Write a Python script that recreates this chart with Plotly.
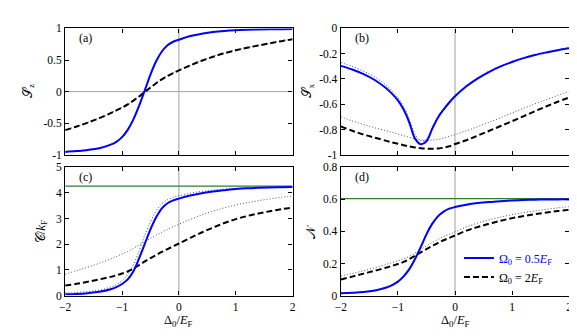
import plotly.graph_objects as go

# ---------------- data ----------------
delta = [-2.0, -1.8, -1.6, -1.4, -1.2, -1.1, -1.0, -0.9, -0.8, -0.7, -0.6, -0.5, -0.4, -0.3,
         -0.2, -0.1, 0.0, 0.2, 0.4, 0.6, 0.8, 1.0, 1.2, 1.4, 1.6, 1.8, 2.0]

# (a) S_z
sz_blue = [-0.954, -0.941, -0.924, -0.896, -0.840, -0.795, -0.720, -0.605, -0.440, -0.225, 0.020,
           0.270, 0.480, 0.635, 0.735, 0.790, 0.822, 0.880, 0.915, 0.943, 0.961, 0.972, 0.979,
           0.984, 0.987, 0.989, 0.990]
sz_blue_dot = [-0.950, -0.937, -0.919, -0.890, -0.833, -0.787, -0.711, -0.594, -0.427, -0.210, 0.034,
               0.281, 0.487, 0.639, 0.737, 0.792, 0.824, 0.881, 0.916, 0.944, 0.962, 0.973, 0.980,
               0.985, 0.988, 0.990, 0.991]
sz_black = [-0.610, -0.553, -0.490, -0.420, -0.340, -0.298, -0.253, -0.203, -0.143, -0.076, -0.005,
            0.065, 0.133, 0.195, 0.248, 0.293, 0.335, 0.415, 0.488, 0.552, 0.607, 0.654, 0.695,
            0.731, 0.765, 0.798, 0.828]
sz_black_dot = [-0.606, -0.549, -0.486, -0.416, -0.336, -0.294, -0.249, -0.199, -0.139, -0.072, -0.001,
                0.069, 0.137, 0.199, 0.252, 0.297, 0.339, 0.419, 0.492, 0.556, 0.611, 0.658, 0.699,
                0.735, 0.769, 0.802, 0.832]

# (b) S_x
sx_blue = [-0.296, -0.325, -0.362, -0.410, -0.475, -0.518, -0.570, -0.642, -0.745, -0.872, -0.916,
           -0.893, -0.795, -0.706, -0.642, -0.586, -0.537, -0.458, -0.395, -0.343, -0.300, -0.265,
           -0.235, -0.210, -0.190, -0.172, -0.157]
sx_blue_dot = [-0.270, -0.300, -0.338, -0.386, -0.452, -0.495, -0.548, -0.619, -0.718, -0.838, -0.890,
               -0.876, -0.785, -0.697, -0.634, -0.579, -0.530, -0.452, -0.390, -0.338, -0.296, -0.261,
               -0.231, -0.206, -0.186, -0.168, -0.152]
sx_black = [-0.775, -0.810, -0.840, -0.865, -0.890, -0.902, -0.913, -0.924, -0.934, -0.942, -0.948,
            -0.952, -0.953, -0.950, -0.944, -0.933, -0.915, -0.885, -0.848, -0.810, -0.772, -0.734,
            -0.695, -0.655, -0.617, -0.580, -0.546]
sx_black_dot = [-0.700, -0.732, -0.761, -0.787, -0.810, -0.823, -0.836, -0.849, -0.862, -0.874, -0.882,
                -0.885, -0.884, -0.878, -0.868, -0.855, -0.840, -0.810, -0.777, -0.742, -0.706, -0.669,
                -0.632, -0.597, -0.563, -0.530, -0.498]

# (c) C / k_F
c_blue = [0.050, 0.065, 0.095, 0.145, 0.245, 0.330, 0.450, 0.630, 0.950, 1.450, 2.020, 2.580, 3.050,
          3.400, 3.600, 3.710, 3.780, 3.900, 3.990, 4.060, 4.110, 4.150, 4.180, 4.200, 4.215, 4.225,
          4.235]
c_blue_dot = [0.100, 0.120, 0.155, 0.210, 0.330, 0.430, 0.580, 0.820, 1.200, 1.750, 2.350, 2.880,
              3.300, 3.580, 3.740, 3.830, 3.890, 3.990, 4.060, 4.110, 4.150, 4.180, 4.200, 4.215,
              4.225, 4.235, 4.240]
c_black = [0.39, 0.46, 0.54, 0.63, 0.73, 0.79, 0.86, 0.94, 1.05, 1.19, 1.33, 1.46, 1.58, 1.70,
           1.81, 1.92, 2.03, 2.25, 2.46, 2.65, 2.83, 2.98, 3.10, 3.20, 3.29, 3.37, 3.43]
c_black_dot = [0.83, 0.97, 1.11, 1.26, 1.43, 1.52, 1.62, 1.72, 1.84, 1.97, 2.10, 2.23, 2.35, 2.47,
               2.58, 2.68, 2.78, 2.97, 3.14, 3.29, 3.42, 3.53, 3.62, 3.70, 3.77, 3.83, 3.88]
c_limit = 4.27

# (d) N
n_blue = [0.014, 0.017, 0.022, 0.032, 0.050, 0.065, 0.087, 0.120, 0.165, 0.228, 0.302, 0.382,
          0.447, 0.494, 0.524, 0.542, 0.552, 0.567, 0.577, 0.584, 0.589, 0.593, 0.596, 0.598,
          0.599, 0.600, 0.600]
n_blue_dot = [0.015, 0.018, 0.024, 0.034, 0.053, 0.069, 0.092, 0.126, 0.172, 0.236, 0.309, 0.387,
              0.451, 0.497, 0.526, 0.544, 0.554, 0.568, 0.578, 0.585, 0.590, 0.594, 0.597, 0.599,
              0.600, 0.601, 0.601]
n_black = [0.100, 0.118, 0.137, 0.155, 0.175, 0.186, 0.197, 0.210, 0.228, 0.249, 0.270, 0.290,
           0.310, 0.328, 0.345, 0.360, 0.375, 0.405, 0.428, 0.448, 0.467, 0.483, 0.496, 0.508,
           0.518, 0.527, 0.535]
n_black_dot = [0.122, 0.138, 0.155, 0.174, 0.195, 0.206, 0.217, 0.229, 0.245, 0.265, 0.288, 0.310,
               0.330, 0.350, 0.368, 0.383, 0.397, 0.428, 0.453, 0.473, 0.490, 0.505, 0.517, 0.528,
               0.538, 0.547, 0.555]
n_limit = 0.605

x_ticks = [-2, -1, 0, 1, 2]
x_ticktext = ["\u22122", "\u22121", "0", "1", "2"]
ya_ticks = [-1, -0.5, 0, 0.5, 1]
ya_text = ["-1", "-0.5", "0", "0.5", "1"]
yb_ticks = [-1, -0.8, -0.6, -0.4, -0.2, 0]
yb_text = ["-1", "-0.8", "-0.6", "-0.4", "-0.2", "0"]
yc_ticks = [0, 1, 2, 3, 4, 5]
yc_text = ["0", "1", "2", "3", "4", "5"]
yd_ticks = [0, 0.2, 0.4, 0.6, 0.8]
yd_text = ["0", "0.2", "0.4", "0.6", "0.8"]

title_a = "\U0001D4AE<sub>z</sub>"
title_b = "\U0001D4AE<sub>x</sub>"
title_c = "\U0001D49E/<i>k</i><sub>F</sub>"
title_d = "\U0001D4A9"
title_x = "\u0394<sub>0</sub>/<i>E</i><sub>F</sub>"

legend_blue = "\u03a9<sub>0</sub> = 0.5<i>E</i><sub>F</sub>"
legend_black = "\u03a9<sub>0</sub> = 2<i>E</i><sub>F</sub>"

# ---------------- figure ----------------
W, H = 577, 336
FONT = "Liberation Serif, DejaVu Serif, serif"
BLUE = "#0000ff"
GREEN = "#2f7f2f"

fig = go.Figure()

panels = [
    ("", sz_blue, sz_blue_dot, sz_black, sz_black_dot, None),
    ("2", sx_blue, sx_blue_dot, sx_black, sx_black_dot, None),
    ("3", c_blue, c_blue_dot, c_black, c_black_dot, c_limit),
    ("4", n_blue, n_blue_dot, n_black, n_black_dot, n_limit),
]

for i, (s, yb, ybd, yk, ykd, lim) in enumerate(panels):
    xa, ya = "x" + s, "y" + s
    if lim is not None:
        fig.add_trace(go.Scatter(x=[delta[0], delta[-1]], y=[lim, lim], mode="lines",
                                 line=dict(color=GREEN, width=1.3), xaxis=xa, yaxis=ya,
                                 showlegend=False, hoverinfo="skip"))
    fig.add_trace(go.Scatter(x=delta, y=ykd, mode="lines", line=dict(color="#555555", width=1,
                             dash="1px,2px", shape="spline"), xaxis=xa, yaxis=ya, showlegend=False))
    fig.add_trace(go.Scatter(x=delta, y=ybd, mode="lines", line=dict(color="#3a3aff", width=1,
                             dash="1px,2px", shape="spline"), xaxis=xa, yaxis=ya, showlegend=False))
    fig.add_trace(go.Scatter(x=delta, y=yk, mode="lines", line=dict(color="black", width=2,
                             dash="6px,3px", shape="spline"), xaxis=xa, yaxis=ya,
                             name=legend_black, showlegend=(i == 3), legendrank=2))
    fig.add_trace(go.Scatter(x=delta, y=yb, mode="lines", line=dict(color=BLUE, width=2,
                             shape="spline"), xaxis=xa, yaxis=ya,
                             name="<span style='color:#0000ff'>" + legend_blue + "</span>",
                             showlegend=(i == 3), legendrank=1))


def px_x(a, b):
    return [a / W, b / W]


def px_y(top, bottom):
    return [1 - bottom / H, 1 - top / H]


dom_x_left = px_x(52, 283)
dom_x_right = px_x(332, 564)
dom_y_top = px_y(15, 146)
dom_y_bot = px_y(159, 292)

axis_common = dict(showline=True, linecolor="black", linewidth=1.3, mirror="ticks",
                   ticks="inside", ticklen=4, tickwidth=1, tickcolor="black",
                   showgrid=False, zeroline=False,
                   tickfont=dict(family=FONT, size=11.5, color="black"))

xt = dict(axis_common, range=[-2, 2], tickvals=x_ticks, ticktext=x_ticktext)

fig.update_layout(
    width=W, height=H,
    margin=dict(l=0, r=0, t=0, b=0),
    paper_bgcolor="white", plot_bgcolor="white",
    font=dict(family=FONT, size=12, color="black"),
    xaxis=dict(xt, domain=dom_x_left, anchor="y", showticklabels=False),
    xaxis2=dict(xt, domain=dom_x_right, anchor="y2", showticklabels=False),
    xaxis3=dict(xt, domain=dom_x_left, anchor="y3"),
    xaxis4=dict(xt, domain=dom_x_right, anchor="y4"),
    yaxis=dict(axis_common, domain=dom_y_top, anchor="x", range=[-1, 1], tickvals=ya_ticks,
               ticktext=ya_text),
    yaxis2=dict(axis_common, domain=dom_y_top, anchor="x2", range=[-1, 0], tickvals=yb_ticks,
                ticktext=yb_text),
    yaxis3=dict(axis_common, domain=dom_y_bot, anchor="x3", range=[0, 5], tickvals=yc_ticks,
                ticktext=yc_text),
    yaxis4=dict(axis_common, domain=dom_y_bot, anchor="x4", range=[0, 0.8], tickvals=yd_ticks,
                ticktext=yd_text),
    legend=dict(x=452 / W, y=1 - 238 / H, xanchor="left", yanchor="top",
                bgcolor="rgba(0,0,0,0)", borderwidth=0, itemwidth=30,
                font=dict(family=FONT, size=12, color="black"), tracegroupgap=0),
    showlegend=True,
)

# reference lines (grey) at Delta0 = 0 in all panels, S_z = 0 in (a)
for s in ["", "2", "3", "4"]:
    fig.add_shape(type="line", xref="x" + s, yref="y" + s + " domain", x0=0, x1=0, y0=0, y1=1,
                  line=dict(color="#a0a0a0", width=1), layer="below")
fig.add_shape(type="line", xref="x domain", yref="y", x0=0, x1=1, y0=0, y1=0,
              line=dict(color="#a0a0a0", width=1), layer="below")

# panel labels
for lab, xp, yp in [("(a)", 64, 25), ("(b)", 344, 25), ("(c)", 64, 169), ("(d)", 344, 169)]:
    fig.add_annotation(text=lab, xref="paper", yref="paper", x=xp / W, y=1 - yp / H,
                       xanchor="left", yanchor="middle", showarrow=False,
                       font=dict(family=FONT, size=12, color="black"))

# axis titles
for txt, xp, yp in [(title_a, 14, 80), (title_b, 298, 80), (title_c, 28, 226), (title_d, 302, 226)]:
    fig.add_annotation(text=txt, xref="paper", yref="paper", x=xp / W, y=1 - yp / H,
                       xanchor="center", yanchor="middle", showarrow=False, textangle=-90,
                       font=dict(family=FONT, size=13, color="black"))
for xp in [(52 + 283) / 2, (332 + 564) / 2]:
    fig.add_annotation(text=title_x, xref="paper", yref="paper", x=xp / W, y=1 - 318 / H,
                       xanchor="center", yanchor="middle", showarrow=False,
                       font=dict(family=FONT, size=12.5, color="black"))

fig.write_html("out.html")
